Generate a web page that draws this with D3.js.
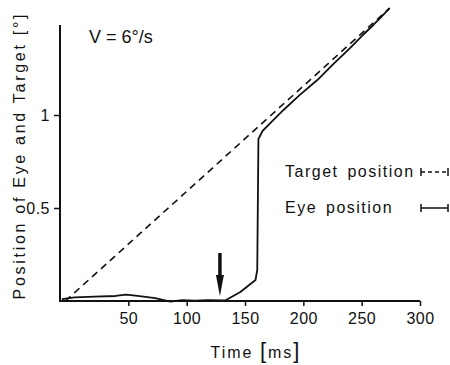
<!DOCTYPE html>
<html>
<head>
<meta charset="utf-8">
<script src="https://cdn.jsdelivr.net/npm/d3@7"></script>
<style>
  body { margin: 0; background: #fff; }
  svg { display: block; font-family: "Liberation Sans", Arial, sans-serif; }
  .axis path, .axis line { stroke: #111; }
  .axis text { font-size: 16px; fill: #111; letter-spacing: 0.5px; }
</style>
</head>
<body>
<svg id="chart" width="450" height="365"></svg>
<script>
// Target position (dashed): time [ms], position [deg]
const targetTime = [-4, 274];
const targetPos = [0, 1.575];

// Eye position (solid)
const eyeTime = [-7, 4, 21, 39, 48, 58, 73, 86, 96, 107, 118, 133, 146, 159, 160.5, 161.5, 165, 171, 183, 197, 212, 225, 240, 251, 260, 266, 274];
const eyePos = [0.01, 0.019, 0.023, 0.027, 0.034, 0.027, 0.016, -0.003, 0.005, 0.002, 0.005, 0.003, 0.048, 0.113, 0.167, 0.87, 0.914, 0.952, 1.027, 1.108, 1.188, 1.269, 1.36, 1.43, 1.484, 1.522, 1.575];

const xTicks = [50, 100, 150, 200, 250, 300];
const yTicks = [0.5, 1];
const yTickLabels = ['0.5', '1'];

// saccade onset marker
const arrowTime = 128.5;
const arrowFrom = 0.258;
const arrowTo = 0.027;

const svg = d3.select('#chart');

// Scales (the figure's y-axis sits a little left of t = 0)
const x = d3.scaleLinear().domain([0, 300]).range([70, 420]);
const y = d3.scaleLinear().domain([0, 1]).range([301, 115]);
const xLeft = 60;
const yTop = 25;

// Axes
const xAxis = svg.append('g')
    .attr('class', 'axis')
    .attr('transform', `translate(0,${y(0)})`)
    .call(d3.axisBottom(x).tickValues(xTicks).tickSize(5).tickPadding(7).tickSizeOuter(0));
xAxis.select('.domain').remove();
xAxis.selectAll('line').attr('stroke-width', 1.5);

svg.append('line')
    .attr('x1', xLeft).attr('x2', x(300))
    .attr('y1', y(0)).attr('y2', y(0))
    .attr('stroke', '#111').attr('stroke-width', 2);

const yAxis = svg.append('g')
    .attr('class', 'axis')
    .attr('transform', `translate(${xLeft},0)`)
    .call(d3.axisLeft(y).tickValues(yTicks).tickFormat((d, i) => yTickLabels[i])
        .tickSize(6).tickPadding(4).tickSizeOuter(0));
yAxis.select('.domain').remove();
yAxis.selectAll('line').attr('stroke-width', 1.5);

svg.append('line')
    .attr('x1', xLeft).attr('x2', xLeft)
    .attr('y1', yTop).attr('y2', y(0) + 1)
    .attr('stroke', '#111').attr('stroke-width', 2);

// Lines
const line = d3.line()
    .x(d => x(d[0]))
    .y(d => y(d[1]));

svg.append('path')
    .datum(d3.zip(targetTime, targetPos))
    .attr('d', line)
    .attr('fill', 'none')
    .attr('stroke', '#111')
    .attr('stroke-width', 1.6)
    .attr('stroke-dasharray', '7,5');

svg.append('path')
    .datum(d3.zip(eyeTime, eyePos))
    .attr('d', line)
    .attr('fill', 'none')
    .attr('stroke', '#111')
    .attr('stroke-width', 1.8)
    .attr('stroke-linejoin', 'round');

// Arrow
const ax = x(arrowTime);
svg.append('line')
    .attr('x1', ax).attr('x2', ax)
    .attr('y1', y(arrowFrom)).attr('y2', y(arrowTo) - 16)
    .attr('stroke', '#111').attr('stroke-width', 3.5);
svg.append('path')
    .attr('d', `M${ax - 4},${y(arrowTo) - 21} L${ax + 4},${y(arrowTo) - 21} L${ax},${y(arrowTo)} Z`)
    .attr('fill', '#111');

// Velocity annotation
svg.append('text')
    .attr('x', 89).attr('y', 43)
    .attr('font-size', 18)
    .attr('fill', '#111')
    .text('V = 6°/s');

// Legend
const legend = [
    {label: 'Target position', dash: '4,3', y: 172},
    {label: 'Eye position', dash: null, y: 208}
];
legend.forEach(d => {
    svg.append('text')
        .attr('x', 285).attr('y', d.y + 5)
        .attr('font-size', 16)
        .attr('letter-spacing', 1.5)
        .attr('word-spacing', 3)
        .attr('fill', '#111')
        .text(d.label);
    const g = svg.append('g').attr('stroke', '#111').attr('stroke-width', 1.5);
    g.append('line')
        .attr('x1', 421).attr('x2', 448).attr('y1', d.y).attr('y2', d.y)
        .attr('stroke-dasharray', d.dash);
    g.append('line').attr('x1', 421).attr('x2', 421).attr('y1', d.y - 4).attr('y2', d.y + 4);
    g.append('line').attr('x1', 448).attr('x2', 448).attr('y1', d.y - 4).attr('y2', d.y + 4);
});

// Axis labels
const xl = svg.append('text')
    .attr('x', 256).attr('y', 358)
    .attr('text-anchor', 'middle')
    .attr('font-size', 16)
    .attr('letter-spacing', 2)
    .attr('fill', '#111');
xl.append('tspan').text('Time ');
xl.append('tspan').attr('font-size', 22).attr('font-weight', 300).text('[');
xl.append('tspan').text('ms');
xl.append('tspan').attr('font-size', 22).attr('font-weight', 300).text(']');

svg.append('text')
    .attr('transform', 'translate(25,157) rotate(-90)')
    .attr('text-anchor', 'middle')
    .attr('font-size', 16)
    .attr('textLength', 285)
    .attr('lengthAdjust', 'spacing')
    .attr('fill', '#111')
    .text('Position of Eye and Target [°]');
</script>
</body>
</html>
